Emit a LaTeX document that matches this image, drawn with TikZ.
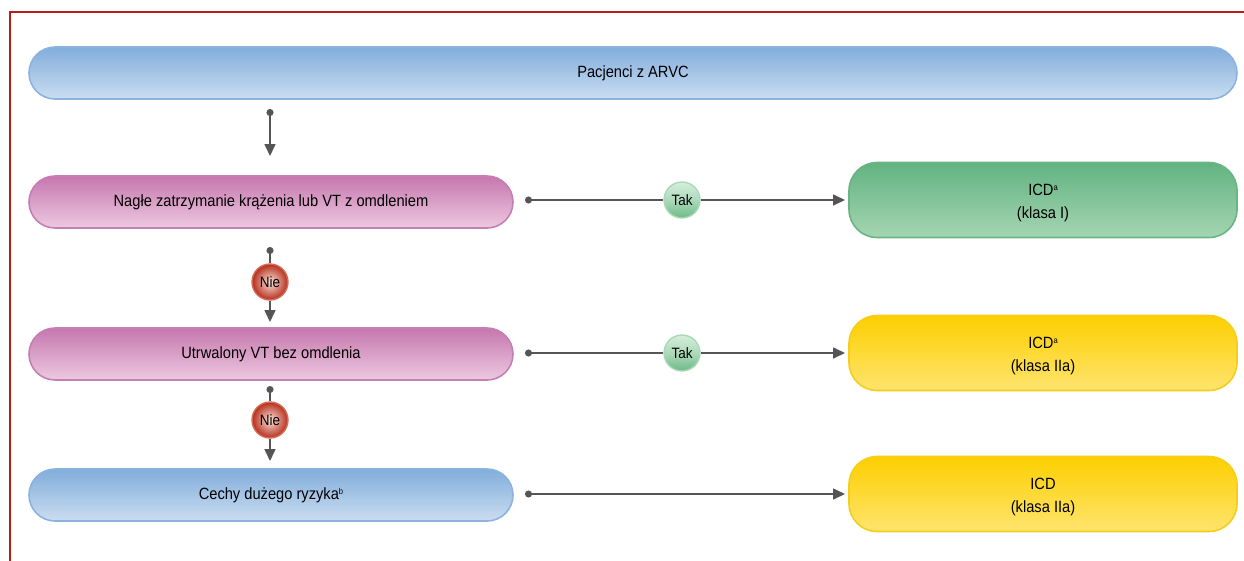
\documentclass[tikz,border=0pt]{standalone}
\usepackage{fontspec}
\setmainfont{Liberation Sans}[FakeStretch=0.9]
\usetikzlibrary{arrows.meta,shadings}
\definecolor{frameRed}{HTML}{B81C1C}
\definecolor{lineGray}{HTML}{555555}
\definecolor{blueTop}{HTML}{82ADDB}
\definecolor{blueBot}{HTML}{CADDF1}
\definecolor{blueEdge}{HTML}{8CB3E0}
\definecolor{pinkTop}{HTML}{C677AE}
\definecolor{pinkBot}{HTML}{EDC9E0}
\definecolor{pinkEdge}{HTML}{C57FB5}
\definecolor{greenTop}{HTML}{62B381}
\definecolor{greenBot}{HTML}{A5D5B2}
\definecolor{greenEdge}{HTML}{69B584}
\definecolor{yelTop}{HTML}{FDCF00}
\definecolor{yelBot}{HTML}{FEE46E}
\definecolor{yelEdge}{HTML}{F6CD18}
\definecolor{takTop}{HTML}{D6EEDC}
\definecolor{takBot}{HTML}{6DBA87}
\definecolor{takEdge}{HTML}{A9D8B6}
\definecolor{nieIn}{HTML}{FBE3DA}
\definecolor{nieOut}{HTML}{B52E1C}
\definecolor{nieEdge}{HTML}{D76A55}
\newcommand{\supmark}[1]{\raisebox{0.55ex}{\fontsize{8.5}{9}\selectfont #1}}
\tikzset{
  txt/.style={font=\fontsize{16.3}{23}\selectfont},
  pill/.style={rounded corners=26pt, line width=1.6pt, txt, align=center, inner sep=0pt},
  bluepill/.style={pill, draw=blueEdge, top color=blueTop, bottom color=blueBot},
  pinkpill/.style={pill, draw=pinkEdge, top color=pinkTop, bottom color=pinkBot},
  resbox/.style={rounded corners=28pt, line width=1.6pt, inner sep=0pt,
    minimum width=388pt, minimum height=75pt},
  restext/.style={txt, align=center, inner sep=0pt},
  greenbox/.style={resbox, draw=greenEdge, top color=greenTop, bottom color=greenBot},
  yelbox/.style={resbox, draw=yelEdge, top color=yelTop, bottom color=yelBot},
  ball/.style={circle, minimum size=36pt, inner sep=0pt, line width=1.4pt,
    font=\fontsize{15}{16}\selectfont},
  takball/.style={ball, draw=takEdge, top color=takTop, bottom color=takBot, middle color=takTop!60!takBot},
  nieball/.style={ball, draw=nieEdge, inner color=nieIn, outer color=nieOut},
  conn/.style={draw=lineGray, line width=1.6pt,
    {Circle[length=7pt,fill=lineGray]}-{Triangle[length=12pt,width=11pt,fill=lineGray]}},
  connstart/.style={draw=lineGray, line width=1.6pt, {Circle[length=7pt,fill=lineGray]}-},
  connend/.style={draw=lineGray, line width=1.6pt, -{Triangle[length=12pt,width=11pt,fill=lineGray]}}
}
\begin{document}
\begin{tikzpicture}[x=1pt,y=-1pt]
\useasboundingbox (0,0) rectangle (1244,560);
% outer frame, open to the right and bottom
\draw[frameRed, line width=1.2pt] (10,570) -- (10,12) -- (1254,12);

% main column
\node[bluepill, minimum width=1208pt, minimum height=52pt] (pac) at (633,73) {Pacjenci z ARVC};
\node[pinkpill, minimum width=484pt, minimum height=52pt] (nzk) at (271,202) {Nagłe zatrzymanie krążenia lub VT z omdleniem};
\node[pinkpill, minimum width=484pt, minimum height=52pt] (uvt) at (271,354) {Utrwalony VT bez omdlenia};
\node[bluepill, minimum width=484pt, minimum height=52pt] (cdr) at (271,495) {Cechy dużego ryzyka\supmark{b}};

% result boxes and their two-line labels
\node[greenbox] (icd1) at (1043,200) {};
\node[restext] (icd1t) at ([yshift=-3pt]icd1.center) {ICD\supmark{a}\\(klasa I)};
\node[yelbox] (icd2) at (1043,353) {};
\node[restext] (icd2t) at ([yshift=-3pt]icd2.center) {ICD\supmark{a}\\(klasa IIa)};
\node[yelbox] (icd3) at (1043,494) {};
\node[restext] (icd3t) at ([yshift=-3pt]icd3.center) {ICD\\(klasa IIa)};

% decision balls
\node[takball] (tak1) at (682,200) {Tak};
\node[takball] (tak2) at (682,353) {Tak};
\node[nieball] (nie1) at (270,282) {Nie};
\node[nieball] (nie2) at (270,420) {Nie};

% anchor points for connector ends
\coordinate (d0) at (270,109);
\coordinate (t0) at (270,156);
\coordinate (d1) at (270,247);
\coordinate (t1) at (270,322);
\coordinate (d2) at (270,386);
\coordinate (t2) at (270,461);
\coordinate (h1) at (525,200);
\coordinate (e1) at (845,200);
\coordinate (h2) at (525,353);
\coordinate (e2) at (845,353);
\coordinate (h3) at (525,494);
\coordinate (e3) at (845,494);

% vertical connectors
\draw[conn] (d0) -- (t0);
\draw[connstart] (d1) -- (nie1);
\draw[connend] (nie1) -- (t1);
\draw[connstart] (d2) -- (nie2);
\draw[connend] (nie2) -- (t2);

% horizontal connectors
\draw[connstart] (h1) -- (tak1);
\draw[connend] (tak1) -- (e1);
\draw[connstart] (h2) -- (tak2);
\draw[connend] (tak2) -- (e2);
\draw[conn] (h3) -- (e3);
\end{tikzpicture}
\end{document}
